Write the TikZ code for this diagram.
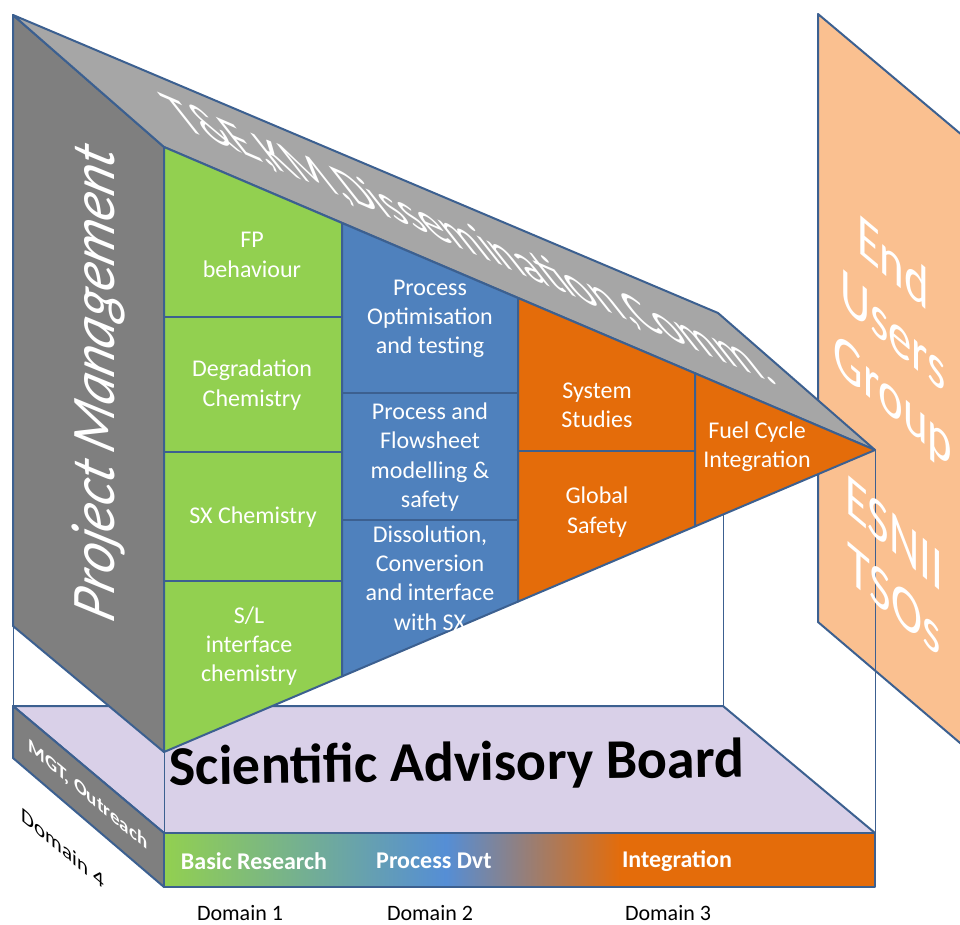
\documentclass[tikz,border=0pt]{standalone}
\usepackage{fontspec}
\setmainfont{Carlito}
\definecolor{edge}{HTML}{3C6090}
\definecolor{pmgray}{HTML}{7F7F7F}
\definecolor{roofgray}{HTML}{A6A6A6}
\definecolor{cgreen}{HTML}{92D050}
\definecolor{cblue}{HTML}{4F81BD}
\definecolor{corange}{HTML}{E46C0A}
\definecolor{peach}{HTML}{FAC090}
\definecolor{lav}{HTML}{D9D0E8}
\definecolor{barblue}{HTML}{558ED5}
\begin{document}
\begin{tikzpicture}[x=1pt,y=-1pt,
 face/.style={draw=edge, line width=2pt, line join=round},
 wire/.style={draw=edge, line width=0.9pt},
 cell/.style={text=white, font=\fontsize{24}{29.3}\selectfont, align=center, inner sep=0pt},
 bartext/.style={text=white, font=\bfseries\fontsize{24}{29}\selectfont, inner sep=0pt},
 dom/.style={text=black, font=\fontsize{22}{26}\selectfont, inner sep=0pt},
 bigwhite/.style={text=white, inner sep=0pt, align=center}]

\clip (0,0) rectangle (960,925);
\fill[white] (0,0) rectangle (960,925);

% End users panel
\path[face, fill=peach] (818,14) -- (1000,167) -- (1000,777) -- (818,622) -- cycle;

% base: scientific advisory board
\path[face, fill=lav] (13,706) -- (723,706) -- (875,833) -- (164,833) -- cycle;
\path[face, fill=pmgray] (13,706) -- (164,833) -- (164,887) -- (13,758) -- cycle;
\shade[left color=cgreen, right color=barblue] (164,833) rectangle (446,887);
\shade[left color=barblue, right color=corange] (446,833) rectangle (621,887);
\fill[corange] (621,833) rectangle (875,887);
\path[face] (164,833) rectangle (875,887);

% wireframe edges
\draw[wire] (13,626) -- (13,706);
\draw[wire] (164,752) -- (164,833);
\draw[wire] (723,514.5) -- (723,706);
\draw[wire] (875,450) -- (875,833);

% project management panel and roof
\path[face, fill=pmgray] (13,15) -- (164,147) -- (164,752) -- (13,626) -- cycle;
\path[face, fill=roofgray] (13,15) -- (718,313) -- (875,450) -- (164,147) -- cycle;

% columns
\path[face, fill=cgreen] (164,147) -- (342,223) -- (342,676.4) -- (164,752) -- cycle;
\draw[face] (164,317) -- (342,317) (164,452) -- (342,452) (164,581) -- (342,581);
\path[face, fill=cblue] (342,223) -- (518,298) -- (518,601.6) -- (342,676.4) -- cycle;
\draw[face] (342,393) -- (518,393) (342,520) -- (518,520);
\path[face, fill=corange] (518,298) -- (695,373.3) -- (695,526.4) -- (518,601.6) -- cycle;
\draw[face] (518,451) -- (695,451);
\path[face, fill=corange] (695,373.3) -- (875,450) -- (695,526.4) -- cycle;

% cell texts
\node[cell] (fp) at (252,255) {FP\\behaviour};
\node[cell] (degr) at (252,385) {Degradation\\Chemistry};
\node[cell] (sx) at (253,517) {SX Chemistry};
\node[cell] (sl) at (249,646) {S/L\\interface\\chemistry};
\node[cell] (popt) at (430,319) {Process\\Optimisation\\and testing};
\node[cell] (pflow) at (430,457) {Process and\\Flowsheet\\modelling \&\\safety};
\node[cell] (diss) at (430,578) {Dissolution,\\Conversion\\and interface\\with SX};
\node[cell] (sys) at (597,405) {System\\Studies};
\node[cell] (glob) at (597,512) {Global\\Safety};
\node[cell] (fci) at (757,447) {Fuel Cycle\\Integration};

% roof text
\node[bigwhite, font=\fontsize{40}{40}\selectfont, anchor=base,
      cm={1.193,-0.515,-1.163,1.473,(0,0)}] (roof) at (484,258) {T\&E,KM,Dissemination,Comm.};

% project management
\node[bigwhite, font=\itshape\fontsize{62}{62}\selectfont, anchor=base,
      cm={0,0.89,-1,0.3,(0,0)}] (pm) at (114,388) {Project Management};

% end users
\node[bigwhite, font=\fontsize{60}{68}\selectfont,
      cm={0.78,-0.655,0,1,(0,0)}] (eug) at (893,334) {End\\Users\\Group};
\node[bigwhite, font=\fontsize{60}{66}\selectfont,
      cm={0.78,-0.655,0,1,(0,0)}] (tso) at (894,566) {ESNII\\TSOs};

% scientific advisory board
\node[font=\bfseries\fontsize{56}{56}\selectfont, inner sep=0pt, anchor=base, rotate=0.8] (sab) at (457,781) {Scientific Advisory Board};

% side labels
\node[text=white, font=\bfseries\fontsize{19}{19}\selectfont, inner sep=0pt,
      cm={1,-0.841,0,1,(0,0)}] (mgt) at (88,795) {MGT, Outreach};
\node[dom, font=\fontsize{21}{21}\selectfont, cm={1,-0.841,0,1,(0,0)}] (d4) at (63,848) {Domain 4};

% bar texts
\node[bartext] (br) at (254,861) {Basic Research};
\node[bartext] (pd) at (434,861) {Process Dvt};
\node[bartext] (integ) at (677,861) {Integration};

% domains
\node[dom] (d1) at (240,913) {Domain 1};
\node[dom] (d2) at (430,913) {Domain 2};
\node[dom] (d3) at (668,913) {Domain 3};
\end{tikzpicture}
\end{document}
